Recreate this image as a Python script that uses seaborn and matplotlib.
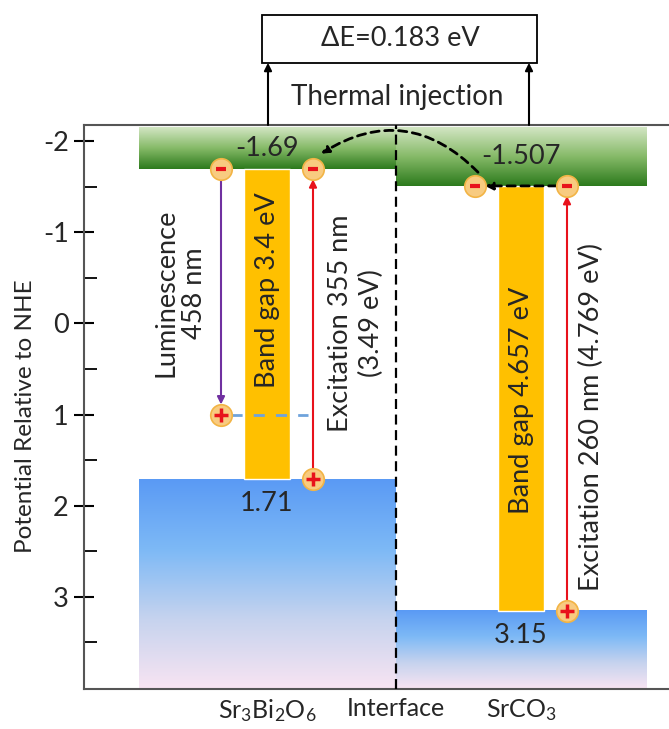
import numpy as np
import pandas as pd
import matplotlib
matplotlib.use("Agg")
import matplotlib.pyplot as plt
import seaborn as sns
from matplotlib.colors import LinearSegmentedColormap
from matplotlib.patches import Rectangle

# === data (potentials vs NHE, eV)
materials = ["$\\mathregular{Sr_3Bi_2O_6}$", "$\\mathregular{SrCO_3}$"]
cb_edge = [-1.69, -1.507]
vb_edge = [1.71, 3.15]
band_gap = [3.4, 4.657]
exc_nm = [355, 260]
exc_ev = [3.49, 4.769]
lum_nm = 458
lum_level = 1.0
delta_e = 0.183
y_ticks = [-2, -1, 0, 1, 2, 3]

# === layout (horizontal positions in layout units)
centers = [267, 521]
band_lo = [139, 396]
band_hi = [396, 647]
gap_w = 46
off = 46
interface_x = 396
band_top = -2.15
y_lo, y_hi = 4.01, -2.175

sns.set_theme(style="ticks")
plt.rcParams["font.family"] = ["Lato", "DejaVu Sans"]
plt.rcParams["mathtext.fontset"] = "custom"
plt.rcParams["mathtext.rm"] = "Lato"
plt.rcParams["axes.unicode_minus"] = False
FS = 19.5

fig = plt.figure(figsize=(6.69, 7.29), dpi=100)
ax = fig.add_axes([84 / 669, 40 / 729, 585 / 669, 564 / 729])

green = LinearSegmentedColormap.from_list("g", ["#D3E6C4", "#86BA68", "#2C7A1C"])
blue = LinearSegmentedColormap.from_list("b", ["#5A9AF4", "#7DB9F6", "#C6D3EE", "#F8E4F2"])
grad = np.linspace(0, 1, 256).reshape(-1, 1)

for i in range(2):
    ax.imshow(grad, cmap=green, origin="lower", aspect="auto", zorder=1,
              extent=(band_lo[i], band_hi[i], band_top, cb_edge[i]))
    ax.imshow(grad, cmap=blue, origin="lower", aspect="auto", zorder=1,
              extent=(band_lo[i], band_hi[i], vb_edge[i], y_lo))
    ax.bar(centers[i], vb_edge[i] - cb_edge[i], bottom=cb_edge[i], width=gap_w,
           color="#FFC000", zorder=2)
    ax.text(centers[i], (band_top + cb_edge[i]) / 2, f"{cb_edge[i]:g}",
            ha="center", va="center", fontsize=FS, zorder=6)
    ax.text(centers[i], vb_edge[i] + 0.27, f"{vb_edge[i]:g}",
            ha="center", va="center", fontsize=FS, zorder=6)

ax.text(centers[0], -0.36, f"Band gap {band_gap[0]} eV", rotation=90,
        ha="center", va="center", fontsize=FS, zorder=6)
ax.text(centers[1] + 1, 0.84, f"Band gap {band_gap[1]} eV", rotation=90,
        ha="center", va="center", fontsize=FS, zorder=6)
ax.text(180, -0.33, f"Luminescence\n{lum_nm} nm", rotation=90,
        ha="center", va="center", fontsize=FS, linespacing=1.2)
ax.text(356, 0.0, f"Excitation {exc_nm[0]} nm\n({exc_ev[0]} eV)", rotation=90,
        ha="center", va="center", fontsize=FS, linespacing=1.3)
ax.text(591, 1.03, f"Excitation {exc_nm[1]} nm ({exc_ev[1]} eV)", rotation=90,
        ha="center", va="center", fontsize=FS)

# interface
ax.axvline(interface_x, color="black", ls=(0, (4.5, 2.5)), lw=1.6, zorder=3)

# === carriers
r = 0.11
carriers = pd.DataFrame({
    "x": [centers[0] - off, centers[0] + off, centers[1] - off, centers[1] + off,
          centers[0] - off, centers[0] + off, centers[1] + off],
    "y": [cb_edge[0], cb_edge[0], cb_edge[1], cb_edge[1],
          lum_level, vb_edge[0], vb_edge[1]],
    "kind": ["e", "e", "e", "e", "h", "h", "h"],
})

# arrows
arr = dict(arrowstyle="-|>", mutation_scale=11, shrinkA=0, shrinkB=0)
ax.annotate("", xy=(centers[0] - off, lum_level - r), xytext=(centers[0] - off, cb_edge[0] + r),
            arrowprops=dict(color="#7030A0", lw=1.5, **arr), zorder=4)
ax.annotate("", xy=(centers[0] + off, cb_edge[0] + r), xytext=(centers[0] + off, vb_edge[0] - r),
            arrowprops=dict(color="#E8121B", lw=1.5, **arr), zorder=4)
ax.annotate("", xy=(centers[1] + off, cb_edge[1] + r), xytext=(centers[1] + off, vb_edge[1] - r),
            arrowprops=dict(color="#E8121B", lw=1.5, **arr), zorder=4)
ax.plot([centers[0] - off + 10, centers[0] + off - 5], [lum_level, lum_level],
        color="#6FA3DC", ls=(0, (4, 4)), lw=2, zorder=4)
ax.annotate("", xy=(centers[1] - off + 10, cb_edge[1]), xytext=(centers[1] + off - 10, cb_edge[1]),
            arrowprops=dict(color="black", lw=2, ls=(0, (3, 2)), **arr), zorder=4)
ax.annotate("", xy=(centers[0] + off + 8, cb_edge[0] - 0.17), xytext=(centers[1] - off + 3, cb_edge[1] - r - 0.04),
            arrowprops=dict(color="black", lw=2, ls=(0, (3, 2)),
                            connectionstyle="arc3,rad=0.4", **arr), zorder=4)

sns.scatterplot(data=carriers, x="x", y="y", s=240, color="#F8CB80",
                edgecolor="#F2B445", linewidth=1.2, zorder=5, ax=ax, legend=False)
el = carriers[carriers.kind == "e"]
ho = carriers[carriers.kind == "h"]
ax.scatter(el.x, el.y, marker="_", s=45, color="#E8121B", linewidths=3, zorder=6)
ax.scatter(ho.x, ho.y, marker="+", s=90, color="#E8121B", linewidths=2.5, zorder=6)

# === thermal injection box (above the axes)
box_y0, box_y1 = -2.857, -3.385
ax.add_patch(Rectangle((262, box_y0), 275, box_y1 - box_y0, facecolor="white",
                       edgecolor="black", lw=1.3, clip_on=False, zorder=6))
ax.text(400, (box_y0 + box_y1) / 2, f"ΔE={delta_e} eV", ha="center", va="center",
        fontsize=FS, zorder=7)
for xa in [268, 529]:
    ax.annotate("", xy=(xa, box_y0), xytext=(xa, y_hi),
                arrowprops=dict(color="black", lw=1.5, **arr), annotation_clip=False)
ax.text(397, -2.48, "Thermal injection", ha="center", va="center", fontsize=FS + 0.5)

# === axes
ax.set_xlim(84, 669)
ax.set_ylim(y_lo, y_hi)
ax.set_yticks(y_ticks)
ax.set_yticks(np.arange(-1.5, 4, 1.0), minor=True)
ax.tick_params(axis="y", which="major", direction="inout", length=14, width=1.5,
               labelsize=FS, color="black", pad=4)
ax.tick_params(axis="y", which="minor", direction="in", length=9, width=1.3, color="black")
ax.set_xticks([centers[0], interface_x, centers[1]])
ax.set_xticklabels([materials[0], "Interface", materials[1]], fontsize=FS - 1.5)
ax.tick_params(axis="x", length=0, pad=6)
ax.set_xlabel("")
ax.set_ylabel("Potential Relative to NHE", fontsize=FS - 2)
ax.yaxis.set_label_coords(-0.082, 0.484)
for s in ["left", "top", "bottom"]:
    ax.spines[s].set_color("#555555")
    ax.spines[s].set_linewidth(1.5)
ax.spines["right"].set_visible(False)

plt.savefig("out.png", dpi=100)
